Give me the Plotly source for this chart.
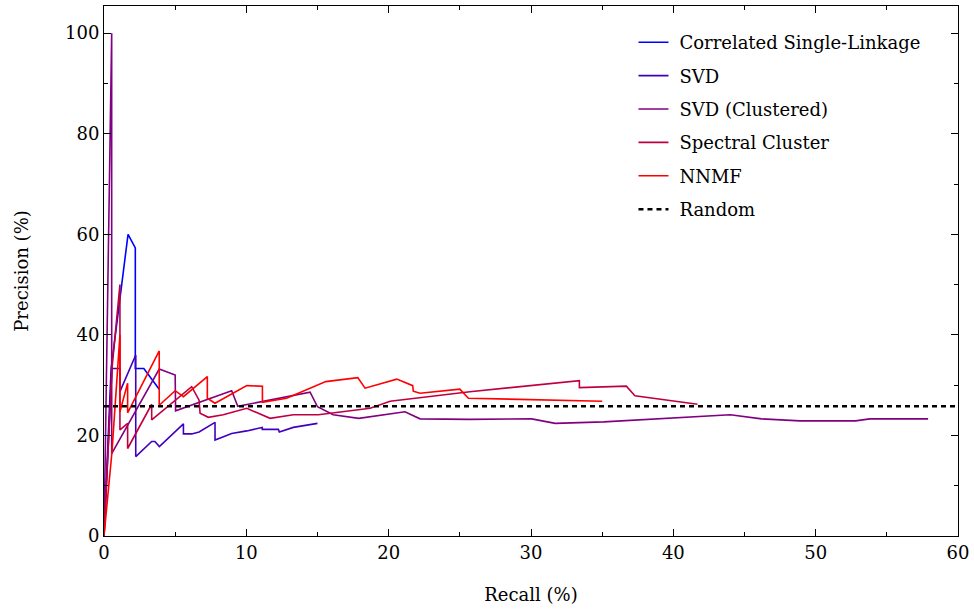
import plotly.graph_objects as go

# ---- data (Recall %, Precision %) ----
csl_recall = [0, 0.5, 1.69, 2.2, 2.2, 2.8, 3.88]
csl_prec = [0, 33.3, 60.0, 57.3, 33.3, 33.3, 29.2]

svd_recall = [0, 0.56, 1.12, 1.12, 2.23, 2.23, 3.35, 3.58, 3.89, 5.58, 5.58, 6.16, 6.68,
              7.8, 7.8, 8.97, 10.03, 11.12, 11.12, 12.25, 12.32, 13.3, 15.0]
svd_prec = [0, 33.3, 33.3, 28.7, 36.0, 15.8, 18.8, 18.8, 17.8, 22.3, 20.3, 20.3, 20.7,
            22.6, 19.1, 20.4, 20.9, 21.6, 21.2, 21.2, 20.7, 21.6, 22.4]

svdc_recall = [0, 0.54, 0.54, 3.88, 5.0, 5.03, 8.97, 9.4, 14.48, 15.0, 16.1, 17.9, 21.15,
               22.2, 25.7, 30.05, 31.7, 35.1, 44.0, 46.2, 48.9, 52.8, 53.8, 57.9]
svdc_prec = [0, 100, 16.4, 33.2, 32.0, 24.9, 28.9, 25.8, 28.6, 25.7, 24.1, 23.4, 24.7,
             23.3, 23.2, 23.3, 22.4, 22.7, 24.1, 23.3, 22.9, 22.9, 23.3, 23.3]

spec_recall = [0, 0.56, 1.12, 1.12, 1.66, 1.66, 3.35, 3.35, 6.16, 6.68, 6.75, 7.33, 8.38,
               10.03, 11.67, 13.3, 15.06, 18.7, 20.1, 25.7, 33.4, 33.4, 36.7, 37.3, 41.7]
spec_prec = [0, 33.3, 50.0, 21.1, 22.4, 17.4, 26.2, 23.1, 29.7, 27.0, 24.4, 23.6, 24.1,
             25.4, 23.4, 24.1, 24.1, 25.4, 26.8, 28.7, 30.9, 29.5, 29.8, 27.9, 26.2]

nnmf_recall = [0, 0.56, 1.12, 1.12, 1.66, 1.66, 3.88, 3.88, 5.0, 5.58, 7.26, 7.26, 7.8,
               10.03, 11.13, 11.13, 12.83, 15.58, 17.83, 18.34, 20.57, 21.69, 21.73, 22.2,
               25.0, 25.6, 35.0]
nnmf_prec = [0, 16.7, 40.0, 24.7, 30.4, 24.5, 36.8, 26.0, 28.9, 27.7, 31.7, 27.4, 26.4,
             29.9, 29.8, 26.6, 27.4, 30.7, 31.5, 29.4, 31.2, 29.9, 28.8, 28.4,
             29.2, 27.4, 26.8]

random_recall = [0, 60]
random_prec = [25.8, 25.8]

series = [
    ("Correlated Single-Linkage", csl_recall, csl_prec, "#0000ff"),
    ("SVD", svd_recall, svd_prec, "#4000bf"),
    ("SVD (Clustered)", svdc_recall, svdc_prec, "#800080"),
    ("Spectral Cluster", spec_recall, spec_prec, "#bf0040"),
    ("NNMF", nnmf_recall, nnmf_prec, "#ff0000"),
]

FONT = "DejaVu Serif"
PAD = "\u2004"

fig = go.Figure()
for i, (name, x, y, c) in enumerate(series):
    fig.add_trace(go.Scatter(x=x, y=y, mode="lines", name=PAD + name, legendgroup=f"g{i}",
                             line=dict(color=c, width=1.6)))
fig.add_trace(go.Scatter(x=random_recall, y=random_prec, mode="lines", name=PAD + "Random",
                         legendgroup="g5",
                         line=dict(color="black", width=2.4, dash="5px,4px")))

axis_common = dict(
    showgrid=False, zeroline=False, showline=True, linecolor="black", linewidth=1,
    mirror="ticks", ticks="inside", ticklen=7, tickcolor="black", tickwidth=1,
    tickfont=dict(family=FONT, size=18, color="black"),
)

fig.update_layout(
    width=974, height=614,
    margin=dict(l=104, r=16, t=6, b=78),
    paper_bgcolor="white", plot_bgcolor="white",
    font=dict(family=FONT, size=18, color="black"),
    xaxis=dict(range=[0, 60], dtick=10,
               title=dict(text="Recall (%)", standoff=26, font=dict(family=FONT, size=18)),
               minor=dict(ticks="inside", dtick=5, ticklen=4, tickcolor="black"),
               **axis_common),
    yaxis=dict(range=[0, 105.4], dtick=20,
               title=dict(text="Precision (%)", standoff=31, font=dict(family=FONT, size=18)),
               minor=dict(ticks="inside", dtick=10, ticklen=4, tickcolor="black"),
               **axis_common),
    legend=dict(x=0.62, y=0.966, xanchor="left", yanchor="top", bgcolor="rgba(0,0,0,0)",
                font=dict(family=FONT, size=18), itemwidth=30, tracegroupgap=7),
    showlegend=True,
)

fig.write_html("out.html")
